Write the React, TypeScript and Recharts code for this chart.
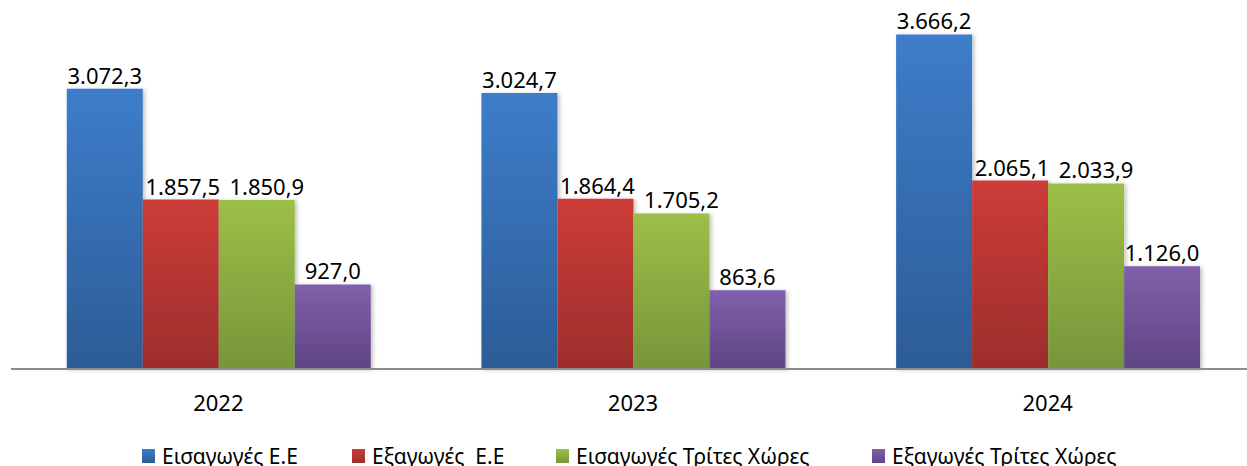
import React from 'react';
import { BarChart, Bar, XAxis, YAxis, Legend, LabelList } from 'recharts';

const years = ['2022', '2023', '2024'];
const euImports = [3072.3, 3024.7, 3666.2];
const euExports = [1857.5, 1864.4, 2065.1];
const thirdImports = [1850.9, 1705.2, 2033.9];
const thirdExports = [927.0, 863.6, 1126.0];

const seriesNames = ['Εισαγωγές Ε.Ε', 'Εξαγωγές  Ε.Ε', 'Εισαγωγές Τρίτες Χώρες', 'Εξαγωγές Τρίτες Χώρες'];
const seriesKeys = ['euImp', 'euExp', 'thImp', 'thExp'];
const gradTop = ['#3D7DCA', '#CD3C38', '#9CBF47', '#8060AA'];
const gradBottom = ['#2C5C96', '#9C2E2C', '#76963A', '#5F4584'];
const labelShift = [0, 2, 10, 0];
const legendItemWidths = [210, 204, 316, 260];

const data = years.map((y, i) => ({
  year: y,
  euImp: euImports[i],
  euExp: euExports[i],
  thImp: thirdImports[i],
  thExp: thirdExports[i],
}));

const FONT = '"Noto Sans", sans-serif';

const fmt = (v: any) => {
  const n = Number(v);
  const [int, dec] = n.toFixed(1).split('.');
  const withDots = int.replace(/\B(?=(\d{3})+(?!\d))/g, '.');
  return `${withDots},${dec}`;
};

const LegendContent = () => (
  <div
    style={{
      display: 'flex',
      justifyContent: 'flex-start',
      alignItems: 'center',
      height: 30,
      paddingTop: 9,
      paddingLeft: 131,
      boxSizing: 'border-box',
      fontFamily: FONT,
      fontSize: 21,
      color: '#000',
      whiteSpace: 'pre',
    }}
  >
    {seriesNames.map((name, i) => (
      <div key={name} style={{ display: 'flex', alignItems: 'center', width: legendItemWidths[i], flex: 'none' }}>
        <div
          style={{
            width: 13,
            height: 14,
            background: `linear-gradient(${gradTop[i]}, ${gradBottom[i]})`,
            marginRight: 7,
            flex: 'none',
          }}
        />
        <span>{name}</span>
      </div>
    ))}
  </div>
);

export default function App() {
  return (
    <div style={{ position: 'absolute', left: 0, top: 0, background: '#fff', width: 1247, height: 466, overflow: 'hidden' }}>
      <BarChart
        width={1247}
        height={466}
        data={data}
        margin={{ top: 4, right: -8, left: 11, bottom: 0 }}
        barGap={0}
        barCategoryGap="13.45%"
      >
        <defs>
          {seriesKeys.map((k, i) => (
            <linearGradient key={k} id={`g-${k}`} x1="0" y1="0" x2="0" y2="1">
              <stop offset="0%" stopColor={gradTop[i]} />
              <stop offset="100%" stopColor={gradBottom[i]} />
            </linearGradient>
          ))}
          <filter id="shadow" x="-10%" y="-10%" width="130%" height="120%">
            <feDropShadow dx="2" dy="1" stdDeviation="2" floodColor="#000" floodOpacity="0.25" />
          </filter>
        </defs>
        <XAxis
          dataKey="year"
          height={67}
          tickLine={false}
          axisLine={{ stroke: '#8C8C8C', strokeWidth: 2 }}
          tick={{ fill: '#000', fontSize: 22, fontFamily: FONT }}
          tickMargin={20}
        />
        <YAxis hide domain={[0, 4000]} />
        <Legend verticalAlign="bottom" height={30} content={<LegendContent />} />
        {seriesKeys.map((k, i) => (
          <Bar
            key={k}
            dataKey={k}
            name={seriesNames[i]}
            fill={`url(#g-${k})`}
            filter="url(#shadow)"
            isAnimationActive={false}
          >
            <LabelList
              dataKey={k}
              position="top"
              offset={5}
              formatter={fmt}
              dx={labelShift[i]}
              style={{ fill: '#000', fontSize: 22, fontFamily: FONT }}
            />
          </Bar>
        ))}
      </BarChart>
    </div>
  );
}
